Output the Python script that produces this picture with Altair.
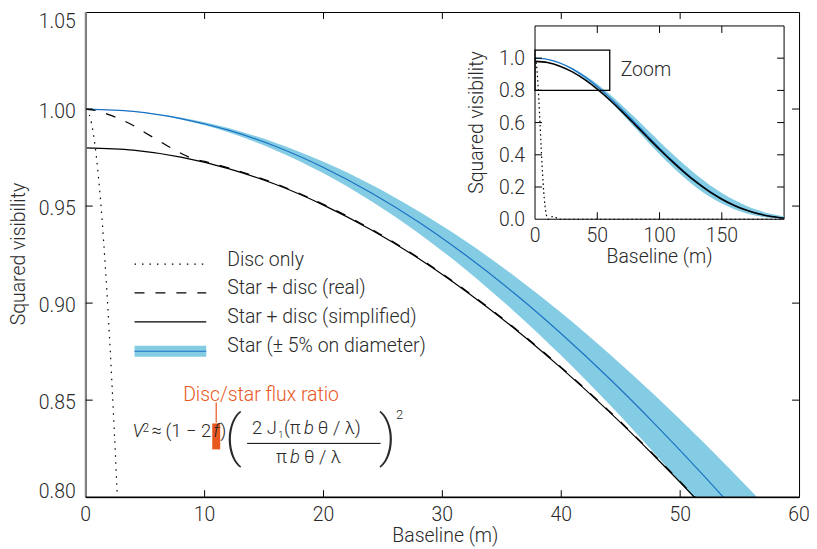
import altair as alt
import pandas as pd

# ---------------- data ----------------
main_b = [0, 4, 8, 12, 16, 20, 24, 28, 32, 36, 40, 44, 48, 52, 56, 60]
star_mid = [1.0, 0.9988, 0.9951, 0.9891, 0.9807, 0.9699, 0.9569, 0.9418, 0.9245, 0.9053,
            0.8842, 0.8614, 0.8369, 0.8110, 0.7837, 0.7553]
star_lo = [1.0, 0.9987, 0.9946, 0.9880, 0.9787, 0.9669, 0.9526, 0.9360, 0.9171, 0.8960,
           0.8730, 0.8481, 0.8215, 0.7934, 0.7640, 0.7333]
star_hi = [1.0, 0.9989, 0.9956, 0.9902, 0.9825, 0.9728, 0.9611, 0.9473, 0.9317, 0.9142,
           0.8950, 0.8741, 0.8518, 0.8280, 0.8030, 0.7767]
simplified = [0.980, 0.9788, 0.9752, 0.9693, 0.9611, 0.9505, 0.9378, 0.9230, 0.9060, 0.8872,
              0.8665, 0.8442, 0.8202, 0.7948, 0.7680, 0.7402]
real_b = [0, 1, 2, 3, 4, 5, 6, 7, 8, 9, 10, 12, 16, 20, 24, 28, 32, 36, 40, 44, 48, 52, 56, 60]
real_v = [1.0, 0.999, 0.997, 0.9945, 0.9915, 0.9878, 0.9842, 0.9806, 0.9772, 0.9745, 0.9730,
          0.9697, 0.9615, 0.9509, 0.9382, 0.9234, 0.9064, 0.8876, 0.8669, 0.8446, 0.8206,
          0.7952, 0.7684, 0.7406]
disc_b = [0, 0.4, 0.8, 1.2, 1.6, 2.0, 2.4, 2.8]
disc_v = [1.0, 0.9951, 0.9804, 0.9563, 0.9235, 0.8826, 0.8347, 0.7808]

inset_b = [0, 10, 20, 30, 40, 50, 60, 70, 80, 90, 100, 110, 120, 130, 140, 150, 160, 170, 180, 190, 200]
inset_mid = [1.0, 0.9924, 0.9699, 0.9334, 0.8842, 0.8241, 0.7553, 0.6802, 0.6012, 0.5210, 0.4418,
             0.3660, 0.2953, 0.2312, 0.1748, 0.1267, 0.0872, 0.0561, 0.0328, 0.0167, 0.0066]
inset_lo = [1.0, 0.9916, 0.9668, 0.9265, 0.8726, 0.8073, 0.7328, 0.6526, 0.5691, 0.4854, 0.4039,
            0.3271, 0.2568, 0.1945, 0.1411, 0.0971, 0.0623, 0.0363, 0.0183, 0.0071, 0.0014]
inset_hi = [1.0, 0.9931, 0.9728, 0.9395, 0.8946, 0.8396, 0.7764, 0.7065, 0.6328, 0.5571, 0.4814,
            0.4077, 0.3377, 0.2729, 0.2143, 0.1628, 0.1188, 0.0825, 0.0538, 0.0320, 0.0167]
inset_simp = [0.980, 0.9726, 0.9505, 0.9147, 0.8665, 0.8076, 0.7402, 0.6666, 0.5892, 0.5106, 0.4330,
              0.3587, 0.2894, 0.2266, 0.1713, 0.1242, 0.0855, 0.0550, 0.0321, 0.0164, 0.0065]
inset_disc_b = [0, 1, 2, 3, 4, 5, 6, 7, 8, 9, 10, 11, 12, 14, 16, 18, 20, 200]
inset_disc_v = [1.0, 0.9695, 0.8826, 0.7521, 0.5965, 0.4360, 0.2889, 0.1692, 0.0831, 0.0304,
                0.0056, 0.0, 0.0047, 0.0166, 0.0141, 0.0040, 0.0, 0.0]

main_x_domain = [0, 60]
main_y_domain = [0.80, 1.05]
main_x_labels = [0, 10, 20, 30, 40, 50, 60]
main_y_labels = [0.80, 0.85, 0.90, 0.95, 1.00, 1.05]
main_x_ticks = [10, 20, 30, 40, 50]
main_y_ticks = [0.85, 0.90, 0.95, 1.00]
inset_x_domain = [0, 200]
inset_y_domain = [0, 1.2]
inset_x_labels = [0, 50, 100, 150]
inset_y_labels = [0.0, 0.2, 0.4, 0.6, 0.8, 1.0]
inset_x_ticks = [50, 100, 150]
inset_y_ticks = [0.2, 0.4, 0.6, 0.8, 1.0]
legend_labels = ["Disc only", "Star + disc (real)", "Star + disc (simplified)", "Star (± 5% on diameter)"]
x_title = "Baseline (m)"
y_title = "Squared visibility"

# ---------------- style / layout ----------------
FONT = "Roboto"
TXT = "#2a2a2a"
BAND = "#84CCE3"
BLUE = "#1C72C4"
ORANGE = "#E8571E"
FS = 19.5                # label font size
W, H = 716, 487
IX0, IX1 = 451, 701      # inset plot horizontal pixel range
IY0, IY1 = 208, 14       # inset plot vertical pixel range (bottom, top)
TL = 7                   # tick length

xs = alt.Scale(domain=main_x_domain, nice=False, zero=False)
ys = alt.Scale(domain=main_y_domain, nice=False, zero=False)
ixs = alt.Scale(domain=inset_x_domain, range=[IX0, IX1], nice=False, zero=False)
iys = alt.Scale(domain=inset_y_domain, range=[IY0, IY1], nice=False, zero=False)

one = pd.DataFrame({"k": [0]})


def text(s, x, y, size=18.5, align="left", baseline="alphabetic", italic=False, color=TXT,
         weight=300, angle=0):
    return alt.Chart(one).mark_text(
        text=s, align=align, baseline=baseline, fontSize=size, font=FONT, angle=angle,
        fontStyle="italic" if italic else "normal", fontWeight=weight, color=color
    ).encode(x=alt.value(x), y=alt.value(y))


def hrule(x1, x2, y, **kw):
    return alt.Chart(one).mark_rule(**kw).encode(x=alt.value(x1), x2=alt.value(x2), y=alt.value(y))


def vrule(x, y1, y2, **kw):
    return alt.Chart(one).mark_rule(**kw).encode(x=alt.value(x), y=alt.value(y1), y2=alt.value(y2))


def x_labels(values, scale, y, fmt):
    return alt.Chart(pd.DataFrame({"v": values})).mark_text(
        align="center", baseline="alphabetic", font=FONT, fontSize=FS, fontWeight=300, color=TXT
    ).encode(x=alt.X("v:Q", scale=scale, axis=None), y=alt.value(y), text=alt.Text("v:Q", format=fmt))


def y_labels(values, scale, x, fmt, dy=0):
    return alt.Chart(pd.DataFrame({"v": values})).mark_text(
        align="right", baseline="middle", font=FONT, fontSize=FS, fontWeight=300, color=TXT, dy=dy
    ).encode(y=alt.Y("v:Q", scale=scale, axis=None), x=alt.value(x), text=alt.Text("v:Q", format=fmt))


def tick_rules(values, scale, channel, a, b):
    df = pd.DataFrame({"t": values})
    if channel == "x":
        return alt.Chart(df).mark_rule(color="black").encode(
            x=alt.X("t:Q", scale=scale, axis=None), y=alt.value(a), y2=alt.value(b))
    return alt.Chart(df).mark_rule(color="black").encode(
        y=alt.Y("t:Q", scale=scale, axis=None), x=alt.value(a), x2=alt.value(b))


# ---------------- main plot ----------------
main_df = pd.DataFrame({"b": main_b, "mid": star_mid, "lo": star_lo, "hi": star_hi, "simp": simplified})
real_df = pd.DataFrame({"b": real_b, "v": real_v})
disc_df = pd.DataFrame({"b": disc_b, "v": disc_v})

band = alt.Chart(main_df).mark_area(color=BAND, clip=True, interpolate="monotone").encode(
    x=alt.X("b:Q", scale=xs, axis=None),
    y=alt.Y("lo:Q", scale=ys, axis=None),
    y2="hi:Q",
)
mid_line = alt.Chart(main_df).mark_line(color=BLUE, strokeWidth=1.2, clip=True, interpolate="monotone").encode(
    x=alt.X("b:Q", scale=xs, axis=None), y=alt.Y("mid:Q", scale=ys, axis=None))
simp_line = alt.Chart(main_df).mark_line(color="black", strokeWidth=1.2, clip=True, interpolate="monotone").encode(
    x=alt.X("b:Q", scale=xs, axis=None), y=alt.Y("simp:Q", scale=ys, axis=None))
real_line = alt.Chart(real_df).mark_line(color="black", strokeWidth=1.2, strokeDash=[10, 11], clip=True,
                                         interpolate="monotone").encode(
    x=alt.X("b:Q", scale=xs, axis=None), y=alt.Y("v:Q", scale=ys, axis=None))
disc_line = alt.Chart(disc_df).mark_line(color="black", strokeWidth=1.2, strokeDash=[1.5, 5.5], clip=True,
                                         interpolate="monotone").encode(
    x=alt.X("b:Q", scale=xs, axis=None), y=alt.Y("v:Q", scale=ys, axis=None))

axes_main = [
    vrule(0, 0, H, color="#8a8a8a", strokeWidth=2),
    hrule(0, W, H, color="black", strokeWidth=1.5),
    tick_rules(main_x_ticks, xs, "x", H, H - TL),
    tick_rules(main_x_ticks, xs, "x", 0, TL),
    tick_rules(main_y_ticks, ys, "y", 0, TL),
    tick_rules(main_y_ticks, ys, "y", W - TL, W),
    x_labels(main_x_labels, xs, H + 24, "d"),
    y_labels(main_y_labels[:1], ys, -10, ".2f", dy=-5),
    y_labels(main_y_labels[1:-1], ys, -10, ".2f", dy=3),
    y_labels(main_y_labels[-1:], ys, -10, ".2f", dy=10),
    text(x_title, 361, H + 45, size=FS, align="center"),
    text(y_title, -61, 243, size=FS, align="center", angle=270),
]

legend = [
    hrule(49, 121, 253, color="black", strokeWidth=1.2, strokeDash=[1.5, 6]),
    hrule(49, 121, 282, color="black", strokeWidth=1.2, strokeDash=[10, 11]),
    hrule(49, 121, 311, color="black", strokeWidth=1.2),
    hrule(49, 121, 340.5, color=BAND, strokeWidth=11, strokeCap="butt"),
    hrule(49, 121, 340.5, color=BLUE, strokeWidth=1.2),
    text(legend_labels[0], 142, 249, size=FS, baseline="middle"),
    text(legend_labels[1], 142, 277, size=FS, baseline="middle"),
    text(legend_labels[2], 142, 306, size=FS, baseline="middle"),
    text(legend_labels[3], 142, 335, size=FS, baseline="middle"),
]

formula = [
    alt.Chart(one).mark_rect(color=ORANGE).encode(
        x=alt.value(127), x2=alt.value(135), y=alt.value(413), y2=alt.value(439)),
    alt.Chart(one).mark_rule(color=ORANGE, strokeWidth=1.2).encode(
        x=alt.value(131), y=alt.value(392), y2=alt.value(412)),
    text("Disc/star flux ratio", 176, 390, size=FS, align="center", color=ORANGE),
    text("V", 47, 427, italic=True),
    text("2", 57, 422, size=12),
    text("≈", 66, 427),
    text("(1 − 2", 80, 427),
    text("f", 131, 427, align="center", italic=True),
    text(")", 135, 427),
    text("(", 148, 445, size=56, align="center", weight=200),
    text(")", 303, 445, size=56, align="center", weight=200),
    text("2", 315, 409, size=13, align="center"),
    hrule(162, 296, 433, color="black", strokeWidth=1),
    text("2 J", 167, 424),
    text("1", 193, 428, size=10),
    text("(π", 199, 424),
    text("b", 219, 424, italic=True),
    text("θ /  λ)", 233, 424),
    text("π", 191, 453),
    text("b", 205, 453, italic=True),
    text("θ /  λ", 219, 453),
]

main_layer = alt.layer(band, mid_line, simp_line, real_line, disc_line, *axes_main, *legend, *formula)

# ---------------- inset ----------------
inset_df = pd.DataFrame({"b": inset_b, "mid": inset_mid, "lo": inset_lo, "hi": inset_hi, "simp": inset_simp})
inset_disc_df = pd.DataFrame({"b": inset_disc_b, "v": inset_disc_v})
frame_df = pd.DataFrame({"x0": [inset_x_domain[0]], "x1": [inset_x_domain[1]],
                         "y0": [inset_y_domain[0]], "y1": [inset_y_domain[1]]})
zoom_df = pd.DataFrame({"x0": [main_x_domain[0]], "x1": [main_x_domain[1]],
                        "y0": [main_y_domain[0]], "y1": [main_y_domain[1]]})

inset_bg = alt.Chart(frame_df).mark_rect(fill="white", stroke="black", strokeWidth=1).encode(
    x=alt.X("x0:Q", scale=ixs, axis=None), x2="x1:Q",
    y=alt.Y("y0:Q", scale=iys, axis=None), y2="y1:Q")
inset_band = alt.Chart(inset_df).mark_area(color=BAND, interpolate="monotone").encode(
    x=alt.X("b:Q", scale=ixs, axis=None), y=alt.Y("lo:Q", scale=iys, axis=None), y2="hi:Q")
inset_mid_line = alt.Chart(inset_df).mark_line(color=BLUE, strokeWidth=1.2, interpolate="monotone").encode(
    x=alt.X("b:Q", scale=ixs, axis=None), y=alt.Y("mid:Q", scale=iys, axis=None))
inset_simp_line = alt.Chart(inset_df).mark_line(color="black", strokeWidth=1.6, interpolate="monotone").encode(
    x=alt.X("b:Q", scale=ixs, axis=None), y=alt.Y("simp:Q", scale=iys, axis=None))
inset_disc_line = alt.Chart(inset_disc_df).mark_line(color="black", strokeWidth=1.2, strokeDash=[1.5, 3],
                                                     interpolate="monotone").encode(
    x=alt.X("b:Q", scale=ixs, axis=None), y=alt.Y("v:Q", scale=iys, axis=None))
zoom_rect = alt.Chart(zoom_df).mark_rect(fill=None, stroke="black", strokeWidth=1.3).encode(
    x=alt.X("x0:Q", scale=ixs, axis=None), x2="x1:Q",
    y=alt.Y("y0:Q", scale=iys, axis=None), y2="y1:Q")

axes_inset = [
    tick_rules(inset_x_ticks, ixs, "x", IY0, IY0 - TL),
    tick_rules(inset_x_ticks, ixs, "x", IY1, IY1 + TL),
    tick_rules(inset_y_ticks, iys, "y", IX0, IX0 + TL),
    tick_rules(inset_y_ticks, iys, "y", IX1 - TL, IX1),
    x_labels(inset_x_labels, ixs, IY0 + 23, "d"),
    y_labels(inset_y_labels, iys, IX0 - 10, ".1f", dy=1),
    text(x_title, (IX0 + IX1) / 2, IY0 + 44, size=FS, align="center"),
    text(y_title, IX0 - 52, (IY0 + IY1) / 2, size=FS, align="center", angle=270),
]
zoom_label = text("Zoom", 537, 58, size=FS, baseline="middle")

inset_layer = alt.layer(inset_bg, inset_band, inset_mid_line, inset_simp_line, inset_disc_line,
                        zoom_rect, *axes_inset, zoom_label)

chart = alt.layer(main_layer, inset_layer).resolve_scale(
    x="independent", y="independent"
).properties(
    width=W, height=H,
    padding={"left": 78, "top": 3, "right": 10, "bottom": 54},
    autosize=alt.AutoSizeParams(type="none"),
).configure_view(stroke="black", strokeWidth=1)

chart.save("out.html", embed_options={"renderer": "svg", "actions": False})
